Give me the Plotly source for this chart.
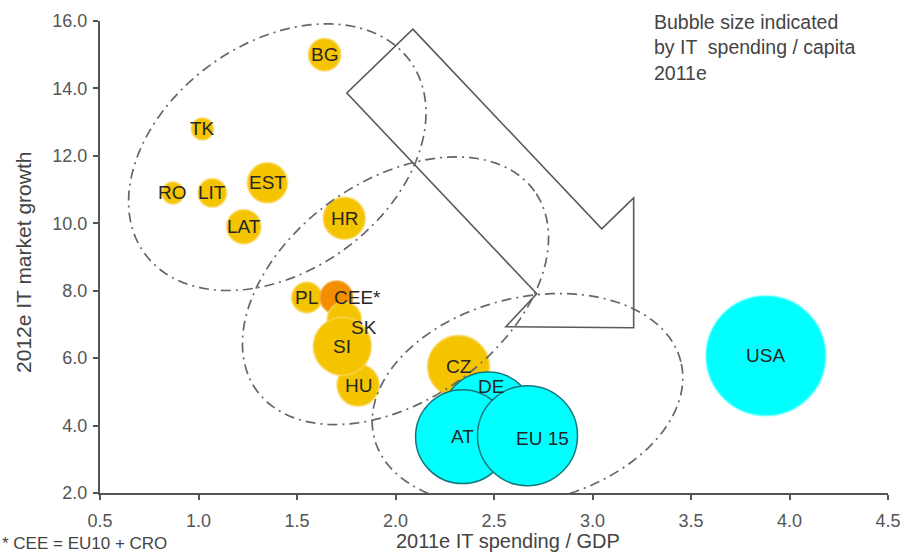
import math
import plotly.graph_objects as go

# Markets, in drawing order (back to front)
countries = ["BG", "TK", "RO", "LIT", "EST", "LAT", "HR", "PL", "CEE*", "SK",
             "HU", "SI", "CZ", "DE", "AT", "EU 15", "USA"]
# 2011e IT spending as % of GDP
it_spend_gdp = [1.64, 1.02, 0.87, 1.07, 1.35, 1.23, 1.74, 1.55, 1.70, 1.74,
                1.81, 1.73, 2.32, 2.47, 2.34, 2.67, 3.88]
# 2012e IT market growth, %
it_market_growth = [15.0, 12.8, 10.9, 10.9, 11.2, 9.9, 10.15, 7.8, 7.8, 7.15,
                    5.2, 6.35, 5.75, 4.2, 3.67, 3.7, 6.07]
# 2011e IT spending per capita (bubble area)
it_spend_capita = [130, 60, 60, 100, 200, 145, 220, 115, 135, 145,
                   220, 420, 480, 1100, 1100, 1250, 1800]
# Region of each market
regions = ["CEE", "CEE", "CEE", "CEE", "CEE", "CEE", "CEE", "CEE", "CEE total", "CEE",
           "CEE", "CEE", "CEE", "Western Europe", "Western Europe", "Western Europe", "USA"]

x_ticks = [0.5, 1.0, 1.5, 2.0, 2.5, 3.0, 3.5, 4.0, 4.5]
y_ticks = [2.0, 4.0, 6.0, 8.0, 10.0, 12.0, 14.0, 16.0]

FONT = "Liberation Sans, Arial, sans-serif"
W, H = 905, 554
MARGIN = dict(l=100, r=17, t=21, b=61)
X_RANGE = [0.5, 4.5]
Y_RANGE = [2.0, 16.0]

fill_color = {"CEE": "#F5C400", "CEE total": "#F28E00",
              "Western Europe": "#00FFFF", "USA": "#00FFFF"}
edge_color = {"CEE": "rgba(250,214,90,0.65)", "CEE total": "rgba(245,170,60,0.6)",
              "Western Europe": "#17767C", "USA": "rgba(120,255,255,0.5)"}
edge_width = {"CEE": 2, "CEE total": 2, "Western Europe": 1.5, "USA": 2}

# a few labels sit beside their bubble rather than on it (px)
label_shift = {"CEE*": (21, 0), "SK": (20, -8), "DE": (3, 32), "EU 15": (15, -3)}

largest = max(it_spend_capita)
sizeref = largest / (2 * 60.0 ** 2)   # largest bubble gets a 60 px radius

fig = go.Figure()
fig.add_trace(go.Scatter(
    x=it_spend_gdp, y=it_market_growth, mode="markers",
    marker=dict(size=it_spend_capita, sizemode="area", sizeref=sizeref,
                color=[fill_color[r] for r in regions], opacity=1,
                line=dict(color=[edge_color[r] for r in regions],
                          width=[edge_width[r] for r in regions])),
    hovertext=countries, hoverinfo="text", showlegend=False,
))

annotations = []
for name, xv, yv in zip(countries, it_spend_gdp, it_market_growth):
    dx, dy = label_shift.get(name, (0, 0))
    annotations.append(dict(x=xv, y=yv, xref="x", yref="y", text=name,
                            showarrow=False, xshift=dx, yshift=dy,
                            font=dict(family=FONT, size=19, color="#262626")))

# plot-area scale, used for the hand-drawn group outlines
plot_w = W - MARGIN["l"] - MARGIN["r"]
plot_h = H - MARGIN["t"] - MARGIN["b"]
px_per_x = plot_w / (X_RANGE[1] - X_RANGE[0])
px_per_y = plot_h / (Y_RANGE[1] - Y_RANGE[0])


def ellipse_path(cx, cy, a_px, b_px, angle_deg, n=120):
    """Tilted ellipse centred on (cx, cy) in data units, semi-axes in pixels."""
    t = math.radians(angle_deg)
    pts = []
    for i in range(n + 1):
        u = 2 * math.pi * i / n
        ex = a_px * math.cos(u)
        ey = b_px * math.sin(u)
        rx = ex * math.cos(t) - ey * math.sin(t)
        ry = ex * math.sin(t) + ey * math.cos(t)
        pts.append((cx + rx / px_per_x, cy + ry / px_per_y))
    return "M " + " L ".join(f"{p[0]:.4f},{p[1]:.4f}" for p in pts) + " Z"


group_outlines = [
    (1.40, 11.96, 164, 114, 35.9),
    (2.00, 8.00, 171, 110, 35.6),
    (2.67, 4.77, 158, 102, 13.9),
]
shapes = []
for cx, cy, a, b, ang in group_outlines:
    shapes.append(dict(type="path", xref="x", yref="y", path=ellipse_path(cx, cy, a, b, ang),
                       line=dict(color="#666666", width=1.7, dash="10px,5px,2px,5px"),
                       fillcolor="rgba(0,0,0,0)", layer="above"))

# outlined arrow pointing from the fast-growing, low-spend markets to the mature ones
arrow_pts = [(2.088, 15.76), (3.047, 9.835), (3.209, 10.754), (3.209, 6.901),
             (2.560, 6.931), (2.717, 7.909), (1.753, 13.866)]
arrow_path = "M " + " L ".join(f"{px},{py}" for px, py in arrow_pts) + " Z"
shapes.append(dict(type="path", xref="x", yref="y", path=arrow_path,
                   line=dict(color="#5A5A5A", width=1.6),
                   fillcolor="rgba(0,0,0,0)", layer="above"))

annotations.append(dict(xref="paper", yref="paper", x=0.700, y=1.026,
                        xanchor="left", yanchor="top", align="left", showarrow=False,
                        text="Bubble size indicated<br>by IT  spending / capita<br>2011e",
                        font=dict(family=FONT, size=19.5, color="#444444")))
annotations.append(dict(xref="paper", yref="paper", x=-0.127, y=-0.106,
                        xanchor="left", yanchor="middle", showarrow=False,
                        text="* CEE = EU10 + CRO",
                        font=dict(family=FONT, size=17, color="#444444")))
# axis titles
annotations.append(dict(xref="paper", yref="paper", x=0.518, y=-0.102,
                        xanchor="center", yanchor="middle", showarrow=False,
                        text="2011e IT spending / GDP",
                        font=dict(family=FONT, size=20, color="#444444")))
annotations.append(dict(xref="paper", yref="paper", x=-0.098, y=0.489,
                        xanchor="center", yanchor="middle", showarrow=False,
                        textangle=-90, text="2012e IT market growth",
                        font=dict(family=FONT, size=21, color="#444444")))

axis_common = dict(showline=True, linecolor="#555555", linewidth=2, mirror=False,
                   ticks="outside", ticklen=5, tickwidth=1.5, tickcolor="#555555",
                   showgrid=False, zeroline=False, tickformat=".1f", ticksuffix="%",
                   tickfont=dict(family=FONT, size=18, color="#555555"))

fig.update_layout(
    width=W, height=H, margin=MARGIN,
    paper_bgcolor="white", plot_bgcolor="white",
    xaxis=dict(range=X_RANGE, tickvals=x_ticks, automargin=False,
               ticklabelstandoff=5, **axis_common),
    yaxis=dict(range=Y_RANGE, tickvals=y_ticks, automargin=False,
               ticklabelstandoff=2, **axis_common),
    shapes=shapes, annotations=annotations,
)

fig.write_html("out.html")
